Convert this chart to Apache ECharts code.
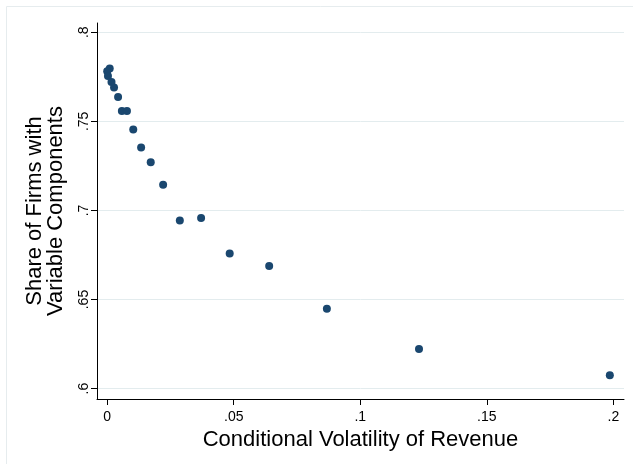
<!DOCTYPE html>
<html>
<head>
<meta charset="utf-8">
<script src="https://cdn.jsdelivr.net/npm/echarts@6/dist/echarts.min.js"></script>
<style>
html,body{margin:0;padding:0;background:#fff;}
#c{width:633px;height:464px;}
</style>
</head>
<body>
<div id="c"></div>
<script>
const xValues = [0.0010, 0.0000, 0.0003, 0.0017, 0.0027, 0.0043, 0.0058, 0.0078, 0.0103, 0.0134, 0.0172, 0.0221, 0.0287, 0.0371, 0.0484, 0.0640, 0.0868, 0.1232, 0.1986];
const yValues = [0.7796, 0.7781, 0.7755, 0.7721, 0.7690, 0.7637, 0.7558, 0.7558, 0.7454, 0.7353, 0.7270, 0.7145, 0.6943, 0.6958, 0.6758, 0.6688, 0.6449, 0.6222, 0.6075];
const xTicks = [0, 0.05, 0.1, 0.15, 0.2];
const xTickLabels = ['0', '.05', '.1', '.15', '.2'];
const yTicks = [0.6, 0.65, 0.7, 0.75, 0.8];
const yTickLabels = ['.6', '.65', '.7', '.75', '.8'];
const xTitle = 'Conditional Volatility of Revenue';
const yTitle = 'Share of Firms with\nVariable Components';

const FONT = 'Liberation Sans, Arial, Helvetica, sans-serif';
function lab(ticks, labels) {
  return function (v) {
    for (let i = 0; i < ticks.length; i++) {
      if (Math.abs(ticks[i] - v) < 1e-9) return labels[i];
    }
    return '';
  };
}
const points = xValues.map((x, i) => [x, yValues[i]]);

const chart = echarts.init(document.getElementById('c'), null, {renderer: 'canvas'});
chart.setOption({
  animation: false,
  backgroundColor: '#ffffff',
  textStyle: {fontFamily: FONT},
  graphic: [{
    type: 'rect',
    silent: true,
    z: -10,
    shape: {x: 6.5, y: 6.5, width: 700, height: 700},
    style: {fill: 'none', stroke: '#e6ecee', lineWidth: 1}
  }],
  grid: {left: 97, right: 9, top: 23, bottom: 65, containLabel: false},
  xAxis: {
    type: 'value',
    min: -0.00403,
    max: 0.2042,
    name: xTitle,
    nameLocation: 'middle',
    nameGap: 28,
    nameTextStyle: {fontSize: 22, color: '#000', fontFamily: FONT},
    axisLine: {show: true, onZero: false, lineStyle: {color: '#000', width: 1}},
    axisTick: {show: true, length: 6, customValues: xTicks, lineStyle: {color: '#000'}},
    axisLabel: {show: true, customValues: xTicks, margin: 11, fontSize: 14, color: '#000', fontFamily: FONT, formatter: lab(xTicks, xTickLabels)},
    splitLine: {show: false}
  },
  yAxis: {
    type: 'value',
    min: 0.5942,
    max: 0.8052,
    name: yTitle,
    nameLocation: 'middle',
    nameGap: 31,
    nameRotate: 90,
    nameTextStyle: {fontSize: 22, lineHeight: 21, color: '#000', fontFamily: FONT, align: 'center'},
    axisLine: {show: true, onZero: false, lineStyle: {color: '#000', width: 1}},
    axisTick: {show: true, length: 6, customValues: yTicks, lineStyle: {color: '#000'}},
    axisLabel: {show: true, customValues: yTicks, rotate: 90, margin: 6, fontSize: 14, color: '#000', fontFamily: FONT, formatter: lab(yTicks, yTickLabels)},
    splitLine: {show: true, lineStyle: {color: '#e3ecee', width: 1}}
  },
  series: [{
    type: 'scatter',
    data: points,
    symbol: 'circle',
    symbolSize: 8,
    itemStyle: {color: '#1a476f', opacity: 1},
    emphasis: {disabled: true}
  }]
});
</script>
</body>
</html>
